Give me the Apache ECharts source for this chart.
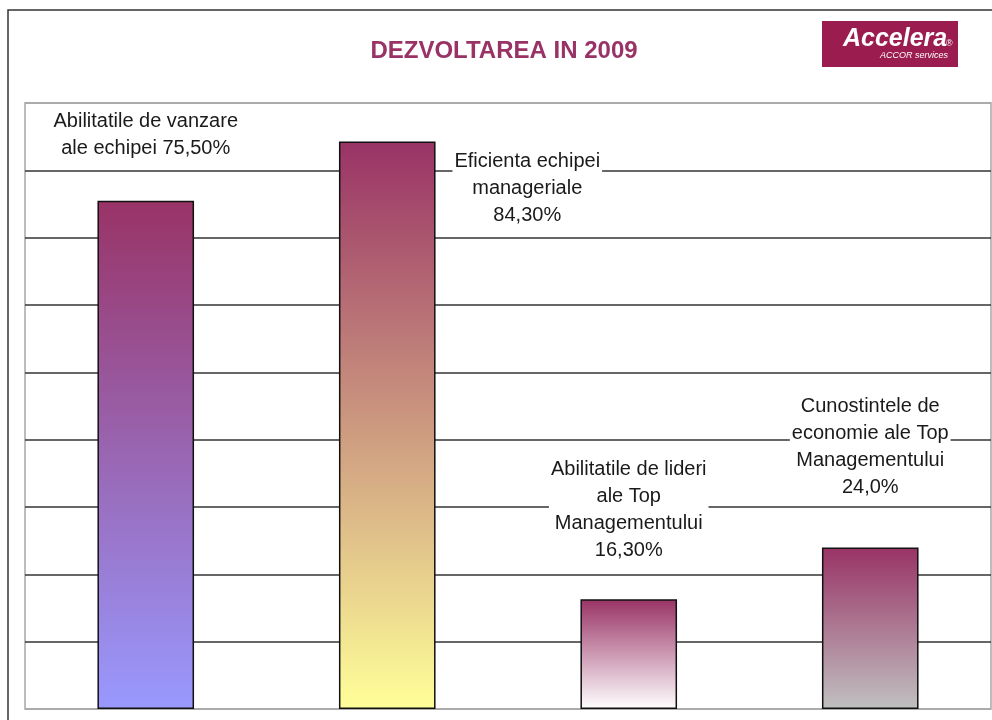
<!DOCTYPE html>
<html>
<head>
<meta charset="utf-8">
<title>DEZVOLTAREA IN 2009</title>
<script src="https://cdn.jsdelivr.net/npm/echarts@6/dist/echarts.min.js"></script>
<style>
    html, body { margin: 0; padding: 0; background: #fff; }
    #chart { width: 992px; height: 720px; }
</style>
</head>
<body>
<div id="chart"></div>
<script>
// date
const categories = ['Abilitatile de vanzare ale echipei', 'Eficienta echipei manageriale',
    'Abilitatile de lideri ale Top Managementului', 'Cunostintele de economie ale Top Managementului'];
const values = [75.5, 84.3, 16.3, 24.0];
const labelTexts = [
    'Abilitatile de vanzare\nale echipei 75,50%',
    'Eficienta echipei\nmanageriale\n84,30%',
    'Abilitatile de lideri\nale Top\nManagementului\n16,30%',
    'Cunostintele de\neconomie ale Top\nManagementului\n24,0%'
];
const bottomColors = ['#9999FF', '#FFFF99', '#FFFFFF', '#C0C0C0'];
const topColor = '#993366';
// unde sta eticheta fata de bara
const labelOffsets = [[0, -39], [140, 88], [0, -35], [0, -46]];

const font = "'Liberation Sans', Arial, sans-serif";

let myChart = echarts.init(document.getElementById('chart'));

myChart.setOption({
    animation: false,
    title: {
        text: 'DEZVOLTAREA IN 2009',
        left: 499,
        top: 34,
        textAlign: 'center',
        textStyle: {fontFamily: font, fontSize: 24, fontWeight: 'bold', color: '#993366'}
    },
    graphic: [
        // chenarul paginii
        {type: 'polyline', silent: true, shape: {points: [[8, 720], [8, 10], [992, 10]]},
            style: {stroke: '#333', lineWidth: 1.5, fill: null}},
        // logo
        {type: 'rect', shape: {x: 822, y: 21, width: 136, height: 46}, style: {fill: '#9B1D50'}},
        {type: 'text', left: 843, top: 27,
            style: {text: 'Accelera', fill: '#fff', font: 'italic bold 25px ' + font}},
        {type: 'text', left: 946, top: 39,
            style: {text: '®', fill: '#fff', font: '9px ' + font}},
        {type: 'text', left: 880, top: 51,
            style: {text: 'ACCOR services', fill: '#fff', font: 'italic 9px ' + font}}
    ],
    grid: {
        left: 25, right: 1, top: 103, bottom: 11,
        show: true, borderColor: '#a6a6a6', borderWidth: 1.5
    },
    xAxis: {
        type: 'category',
        data: categories,
        axisLine: {show: false},
        axisTick: {show: false},
        axisLabel: {show: false}
    },
    yAxis: {
        type: 'value',
        min: 0, max: 90, interval: 10,
        axisLine: {show: false},
        axisTick: {show: false},
        axisLabel: {show: false},
        splitLine: {
            lineStyle: {
                width: 1.5,
                color: ['#a6a6a6', '#333', '#333', '#333', '#333', '#333', '#333', '#333', '#333', '#a6a6a6']
            }
        }
    },
    series: [{
        type: 'bar',
        barWidth: '40%',
        z: 3,
        data: values.map((v, i) => ({
            value: v,
            itemStyle: {
                color: new echarts.graphic.LinearGradient(0, 0, 0, 1, [
                    {offset: 0, color: topColor},
                    {offset: 1, color: bottomColors[i]}
                ]),
                borderColor: '#111',
                borderWidth: 1.5
            },
            label: {
                show: true,
                position: 'top',
                distance: 0,
                offset: labelOffsets[i],
                formatter: labelTexts[i],
                align: 'center',
                fontFamily: font,
                fontSize: 20,
                lineHeight: 27,
                color: '#1a1a1a',
                backgroundColor: '#fff',
                padding: [0, 2]
            }
        }))
    }]
}, true);
</script>
</body>
</html>
